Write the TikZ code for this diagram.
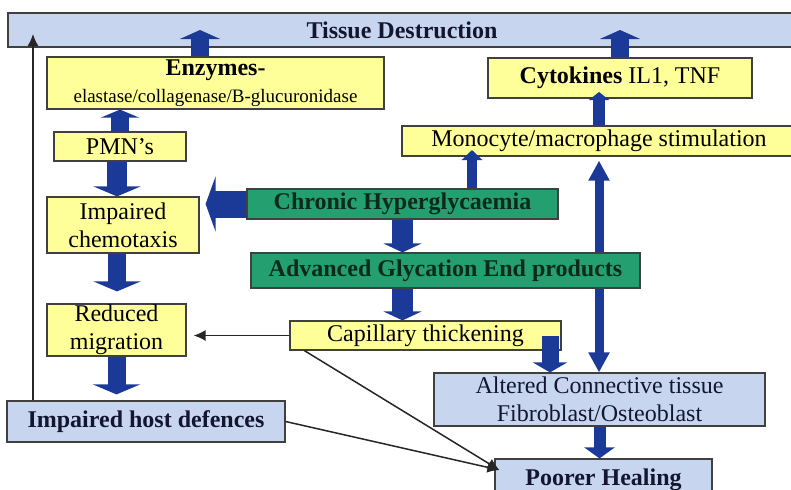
\documentclass[tikz,border=0pt]{standalone}
\usepackage{fontspec}
\setmainfont{Liberation Serif}
\usetikzlibrary{arrows.meta,backgrounds}

\definecolor{boxyellow}{HTML}{FFFF99}
\definecolor{boxgreen}{HTML}{24A070}
\definecolor{boxblue}{HTML}{C8D5EF}
\definecolor{arrowblue}{HTML}{1B3A98}
\definecolor{darknavy}{HTML}{12162E}
\definecolor{darkgreen}{HTML}{0B2A18}

\begin{document}
\begin{tikzpicture}[x=0.5pt,y=-0.5pt,
  box/.style={draw=black!75, line width=0.6pt, inner sep=0pt, align=center,
    font=\fontsize{12}{14}\selectfont},
  yellowbox/.style={box, fill=boxyellow},
  greenbox/.style={box, fill=boxgreen, text=darkgreen, font=\fontsize{12}{14}\selectfont\bfseries},
  bluebox/.style={box, fill=boxblue, text=darknavy},
  fat/.style n args={3}{draw=arrowblue, fill=arrowblue, line width=#1,
    -{Triangle[width=#2,length=#3]}},
  thin/.style={draw=black!85, line width=0.75pt, -{Latex[length=6pt,width=5.5pt]}}]

\useasboundingbox (0,0) rectangle (791,489);

% top bar
\node (tissue) at (402,30) [bluebox, minimum width=394pt, minimum height=17pt,
  font=\fontsize{12}{14}\selectfont\bfseries] {Tissue Destruction};

% left column
\node (enz) at (215.5,83) [yellowbox, minimum width=168.5pt, minimum height=26pt]
  {\textbf{Enzymes-}\\[-0.5pt]{\fontsize{9.5}{11}\selectfont elastase/collagenase/B-glucuronidase}};
\node (pmn) at (120,146.5) [yellowbox, minimum width=66pt, minimum height=14.5pt] {PMN’s};
\node (chemo) at (123,225) [yellowbox, minimum width=76pt, minimum height=28pt] {Impaired\\chemotaxis};
\node (redmig) at (116.5,330) [yellowbox, minimum width=69.5pt, minimum height=26pt] {Reduced\\migration};
\node (host) at (146,421.5) [bluebox, minimum width=139pt, minimum height=20.5pt,
  font=\fontsize{12}{14}\selectfont\bfseries] {Impaired host defences};

% middle
\node (chronic) at (402.5,204) [greenbox, minimum width=155.5pt, minimum height=15pt] {Chronic Hyperglycaemia};
\node (age) at (445.5,270.5) [greenbox, minimum width=194.5pt, minimum height=17.5pt] {Advanced Glycation End products};
\node (cap) at (425.5,335.5) [yellowbox, minimum width=135.5pt, minimum height=14.5pt] {Capillary thickening};

% right column
\node (cyto) at (620,78) [yellowbox, minimum width=132pt, minimum height=20pt] {\textbf{Cytokines} IL1, TNF};
\node (mono) at (599,141) [yellowbox, minimum width=197pt, minimum height=15pt] {Monocyte/macrophage stimulation};
\node (alt) at (599.5,399.5) [bluebox, minimum width=165.5pt, minimum height=26.5pt]
  {Altered Connective tissue\\Fibroblast/Osteoblast};
\node (heal) at (603.5,479.5) [bluebox, minimum width=108.5pt, minimum height=20.5pt,
  font=\fontsize{12}{14}\selectfont\bfseries] {Poorer Healing};

% points used by the arrows
\coordinate (enzup) at ([xshift=-7.75pt]enz.north);
\coordinate (pmndown) at ([xshift=-1.5pt]pmn.south);
\coordinate (chemodown) at ([xshift=-3pt]chemo.south);
\coordinate (chronup) at ([xshift=34.75pt]chronic.north);
\coordinate (capdown) at ([xshift=62.25pt]cap.center);
\coordinate (hostup) at ([xshift=-56.5pt]host.north);
\coordinate (capfoot) at ([xshift=7.5pt]cap.south west);
\coordinate (healin) at ([shift={(2.5pt,4.75pt)}]heal.west);

% double arrow behind the green box
\begin{scope}[on background layer]
\draw [fat={4.5pt}{10pt}{10pt}, {Triangle[width=10pt,length=10pt]}-{Triangle[width=10pt,length=10pt]},
  shorten <=2pt] (mono.south) -- (mono.south |- alt.north);
\end{scope}

% fat arrows
\draw [fat={9pt}{20pt}{4.5pt}] (enzup) -- (enzup |- tissue.center);
\draw [fat={9pt}{20pt}{4.5pt}] (cyto.north) -- (cyto.north |- tissue.center);
\draw [fat={9pt}{19pt}{4pt}] (pmn.north) -- (pmn.north |- enz.south);
\draw [fat={10pt}{23.5pt}{5pt}] (pmndown) -- (pmndown |- chemo.north);
\draw [fat={9pt}{23.5pt}{5pt}, shorten >=6pt] (chemodown) -- (chemodown |- redmig.north);
\draw [fat={9pt}{23.5pt}{5pt}, shorten >=3pt] (redmig.south) -- (redmig.south |- host.north);
\draw [fat={13.5pt}{27.5pt}{5pt}, shorten >=3pt] (chronic.west) -- (chronic.west -| chemo.east);
\draw [fat={5pt}{10pt}{5pt}, shorten >=4.5pt] (chronup) -- (chronup |- mono.center);
\draw [fat={6pt}{10pt}{4pt}, shorten >=7pt] (mono.north) -- (mono.north |- cyto.center);
\draw [fat={10.5pt}{19pt}{4.5pt}] (chronic.south) -- (chronic.south |- age.north);
\draw [fat={10.5pt}{19pt}{4.5pt}] (chronic.south |- age.south) -- (chronic.south |- cap.north);
\draw [fat={8.5pt}{17pt}{5pt}] (capdown) -- (capdown |- alt.north);
\draw [fat={6pt}{15pt}{5.5pt}] (alt.south) -- (alt.south |- heal.north);

% thin arrows
\draw [thin, shorten >=3.5pt] (cap.west) -- (cap.west -| redmig.east);
\draw [thin, shorten >=2pt] (hostup) -- (hostup |- tissue.center);
\draw [thin] (host.east) -- (healin);
\draw [thin] (capfoot) -- (healin);

\end{tikzpicture}
\end{document}
